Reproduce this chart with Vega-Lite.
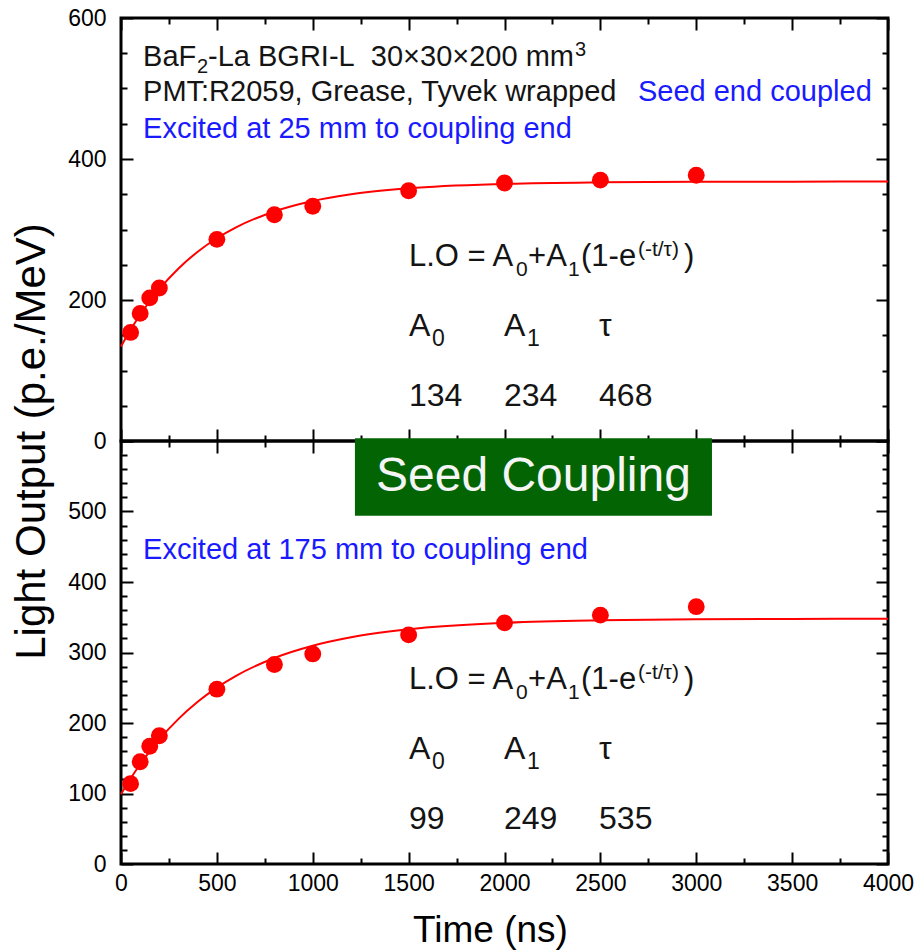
{
  "$schema": "https://vega.github.io/schema/vega-lite/v6.json",
  "padding": {"left": 8, "top": 5, "right": 0, "bottom": 2},
  "background": "white",
  "bounds": "flush",
  "spacing": 0,
  "config": {
    "font": "Liberation Sans",
    "view": {"stroke": "black", "strokeWidth": 3},
    "concat": {"spacing": 0},
    "axis": {
      "domain": false, "grid": false,
      "labelFont": "Liberation Sans", "labelFontSize": 23, "labelColor": "black",
      "labelOverlap": false, "labelFlush": false,
      "tickColor": "black", "tickWidth": 2,
      "titleFont": "Liberation Sans", "titleColor": "black", "titleFontWeight": "normal"
    },
    "text": {"align": "left", "baseline": "alphabetic", "color": "#141414"}
  },
  "datasets": {
    "topPts": [
      {"t": 50, "v": 154}, {"t": 100, "v": 181}, {"t": 150, "v": 203}, {"t": 200, "v": 217},
      {"t": 500, "v": 286}, {"t": 800, "v": 321}, {"t": 1000, "v": 333}, {"t": 1500, "v": 355},
      {"t": 2000, "v": 366}, {"t": 2500, "v": 370}, {"t": 3000, "v": 377}
    ],
    "topCurve": [
      {"t": 0, "v": 134}, {"t": 50, "v": 157.7}, {"t": 100, "v": 179.0}, {"t": 150, "v": 198.2},
      {"t": 200, "v": 215.4}, {"t": 300, "v": 244.7}, {"t": 400, "v": 268.5}, {"t": 500, "v": 287.6},
      {"t": 600, "v": 303.1}, {"t": 800, "v": 325.6}, {"t": 1000, "v": 340.4}, {"t": 1200, "v": 350.0},
      {"t": 1500, "v": 358.5}, {"t": 2000, "v": 364.7}, {"t": 2500, "v": 366.9}, {"t": 3000, "v": 367.6},
      {"t": 3500, "v": 367.9}, {"t": 4000, "v": 368.0}
    ],
    "botPts": [
      {"t": 50, "v": 114}, {"t": 100, "v": 145}, {"t": 150, "v": 167}, {"t": 200, "v": 182},
      {"t": 500, "v": 248}, {"t": 800, "v": 283}, {"t": 1000, "v": 298}, {"t": 1500, "v": 325},
      {"t": 2000, "v": 342}, {"t": 2500, "v": 353}, {"t": 3000, "v": 365}
    ],
    "botCurve": [
      {"t": 0, "v": 99}, {"t": 50, "v": 121.2}, {"t": 100, "v": 141.5}, {"t": 150, "v": 159.9},
      {"t": 200, "v": 176.7}, {"t": 300, "v": 205.9}, {"t": 400, "v": 230.1}, {"t": 500, "v": 250.2},
      {"t": 600, "v": 266.9}, {"t": 800, "v": 292.2}, {"t": 1000, "v": 309.6}, {"t": 1200, "v": 321.6},
      {"t": 1500, "v": 332.9}, {"t": 2000, "v": 342.1}, {"t": 2500, "v": 345.7}, {"t": 3000, "v": 347.1},
      {"t": 3500, "v": 347.6}, {"t": 4000, "v": 347.8}
    ]
  },
  "vconcat": [
    {
      "width": 767, "height": 423,
      "resolve": {"axis": {"x": "independent", "y": "independent"}},
      "layer": [
        {
          "data": {"name": "topCurve"},
          "mark": {"type": "line", "color": "#ff0000", "strokeWidth": 2, "interpolate": "monotone"},
          "encoding": {
            "x": {"field": "t", "type": "quantitative", "scale": {"domain": [0, 4000], "nice": false}, "axis": {"orient": "bottom", "labels": false, "ticks": false, "title": null}},
            "y": {"field": "v", "type": "quantitative", "scale": {"domain": [0, 600], "nice": false}, "axis": {"orient": "left", "values": [0, 200, 400, 600], "ticks": false, "labelPadding": 15, "title": null}}
          }
        },
        {
          "data": {"name": "topPts"},
          "mark": {"type": "circle", "color": "#ff0000", "opacity": 1, "size": 285},
          "encoding": {
            "x": {"field": "t", "type": "quantitative", "axis": {"orient": "bottom", "values": [0, 500, 1000, 1500, 2000, 2500, 3000, 3500, 4000], "labels": false, "tickSize": -12, "title": null}},
            "y": {"field": "v", "type": "quantitative", "axis": {"orient": "left", "values": [0, 200, 400, 600], "labels": false, "tickSize": -12, "title": null}}
          }
        },
        {
          "data": {"name": "topCurve"},
          "mark": {"type": "line", "opacity": 0},
          "encoding": {
            "x": {"field": "t", "type": "quantitative", "axis": {"orient": "bottom", "values": [250, 750, 1250, 1750, 2250, 2750, 3250, 3750], "labels": false, "tickSize": -6, "title": null}},
            "y": {"field": "v", "type": "quantitative", "axis": {"orient": "left", "values": [50, 100, 150, 250, 300, 350, 450, 500, 550], "labels": false, "tickSize": -6, "title": null}}
          }
        },
        {
          "data": {"name": "topCurve"},
          "mark": {"type": "line", "opacity": 0},
          "encoding": {
            "x": {"field": "t", "type": "quantitative", "axis": {"orient": "top", "values": [0, 500, 1000, 1500, 2000, 2500, 3000, 3500, 4000], "labels": false, "tickSize": -12, "title": null}},
            "y": {"field": "v", "type": "quantitative", "axis": {"orient": "right", "values": [0, 200, 400, 600], "labels": false, "tickSize": -12, "title": null}}
          }
        },
        {
          "data": {"name": "topCurve"},
          "mark": {"type": "line", "opacity": 0},
          "encoding": {
            "x": {"field": "t", "type": "quantitative", "axis": {"orient": "top", "values": [250, 750, 1250, 1750, 2250, 2750, 3250, 3750], "labels": false, "tickSize": -6, "title": null}},
            "y": {"field": "v", "type": "quantitative", "axis": {"orient": "right", "values": [50, 100, 150, 250, 300, 350, 450, 500, 550], "labels": false, "tickSize": -6, "title": null}}
          }
        },
        {
          "data": {"values": [
            {"t": 115, "v": 532, "label": "BaF"},
            {"t": 454, "v": 532, "label": "-La BGRI-L\u00a0\u00a030×30×200 mm"},
            {"t": 115, "v": 482, "label": "PMT:R2059, Grease, Tyvek wrapped"}
          ]},
          "mark": {"type": "text", "fontSize": 29},
          "encoding": {
            "x": {"field": "t", "type": "quantitative", "axis": null},
            "y": {"field": "v", "type": "quantitative", "axis": null},
            "text": {"field": "label"}
          }
        },
        {
          "data": {"values": [
            {"t": 396, "v": 522, "label": "2"},
            {"t": 2368, "v": 546, "label": "3"}
          ]},
          "mark": {"type": "text", "fontSize": 20},
          "encoding": {
            "x": {"field": "t", "type": "quantitative", "axis": null},
            "y": {"field": "v", "type": "quantitative", "axis": null},
            "text": {"field": "label"}
          }
        },
        {
          "data": {"values": [
            {"t": 2696, "v": 482, "label": "Seed end coupled"},
            {"t": 115, "v": 430, "label": "Excited at 25 mm to coupling end"}
          ]},
          "mark": {"type": "text", "fontSize": 29, "color": "#1a1aff"},
          "encoding": {
            "x": {"field": "t", "type": "quantitative", "axis": null},
            "y": {"field": "v", "type": "quantitative", "axis": null},
            "text": {"field": "label"}
          }
        },
        {
          "data": {"values": [
            {"t": 1502, "v": 248, "label": "L.O = A"},
            {"t": 2123, "v": 248, "label": "+A"},
            {"t": 2399, "v": 248, "label": "(1-e"},
            {"t": 2936, "v": 248, "label": ")"}
          ]},
          "mark": {"type": "text", "fontSize": 31},
          "encoding": {
            "x": {"field": "t", "type": "quantitative", "axis": null},
            "y": {"field": "v", "type": "quantitative", "axis": null},
            "text": {"field": "label"}
          }
        },
        {
          "data": {"values": [
            {"t": 2060, "v": 234, "label": "0"},
            {"t": 2331, "v": 234, "label": "1"},
            {"t": 2696, "v": 262, "label": "(-t/τ)"}
          ]},
          "mark": {"type": "text", "fontSize": 21},
          "encoding": {
            "x": {"field": "t", "type": "quantitative", "axis": null},
            "y": {"field": "v", "type": "quantitative", "axis": null},
            "text": {"field": "label"}
          }
        },
        {
          "data": {"values": [
            {"t": 1502, "v": 149, "label": "A"},
            {"t": 1997, "v": 149, "label": "A"},
            {"t": 2493, "v": 149, "label": "τ"},
            {"t": 1502, "v": 50, "label": "134"},
            {"t": 1997, "v": 50, "label": "234"},
            {"t": 2493, "v": 50, "label": "468"}
          ]},
          "mark": {"type": "text", "fontSize": 32},
          "encoding": {
            "x": {"field": "t", "type": "quantitative", "axis": null},
            "y": {"field": "v", "type": "quantitative", "axis": null},
            "text": {"field": "label"}
          }
        },
        {
          "data": {"values": [
            {"t": 1622, "v": 135, "label": "0"},
            {"t": 2117, "v": 135, "label": "1"}
          ]},
          "mark": {"type": "text", "fontSize": 23},
          "encoding": {
            "x": {"field": "t", "type": "quantitative", "axis": null},
            "y": {"field": "v", "type": "quantitative", "axis": null},
            "text": {"field": "label"}
          }
        }
      ]
    },
    {
      "width": 767, "height": 423,
      "resolve": {"axis": {"x": "independent", "y": "independent"}},
      "layer": [
        {
          "data": {"name": "botCurve"},
          "mark": {"type": "line", "color": "#ff0000", "strokeWidth": 2, "interpolate": "monotone"},
          "encoding": {
            "x": {"field": "t", "type": "quantitative", "scale": {"domain": [0, 4000], "nice": false}, "axis": {"orient": "bottom", "values": [0, 500, 1000, 1500, 2000, 2500, 3000, 3500, 4000], "format": "d", "ticks": false, "labelPadding": 8, "title": "Time (ns)", "titleFontSize": 37, "titlePadding": 17, "titleX": 369}},
            "y": {"field": "v", "type": "quantitative", "scale": {"domain": [0, 600], "nice": false}, "axis": {"orient": "left", "values": [0, 100, 200, 300, 400, 500], "ticks": false, "labelPadding": 15, "title": "Light Output (p.e./MeV)", "titleFontSize": 42, "titleX": -68, "titleY": 0, "titleBaseline": "bottom"}}
          }
        },
        {
          "data": {"name": "botPts"},
          "mark": {"type": "circle", "color": "#ff0000", "opacity": 1, "size": 285},
          "encoding": {
            "x": {"field": "t", "type": "quantitative", "axis": {"orient": "bottom", "values": [0, 500, 1000, 1500, 2000, 2500, 3000, 3500, 4000], "labels": false, "tickSize": -12, "title": null}},
            "y": {"field": "v", "type": "quantitative", "axis": {"orient": "left", "values": [0, 100, 200, 300, 400, 500, 600], "labels": false, "tickSize": -12, "title": null}}
          }
        },
        {
          "data": {"name": "botCurve"},
          "mark": {"type": "line", "opacity": 0},
          "encoding": {
            "x": {"field": "t", "type": "quantitative", "axis": {"orient": "bottom", "values": [250, 750, 1250, 1750, 2250, 2750, 3250, 3750], "labels": false, "tickSize": -6, "title": null}},
            "y": {"field": "v", "type": "quantitative", "axis": {"orient": "left", "values": [20, 40, 60, 80, 120, 140, 160, 180, 220, 240, 260, 280, 320, 340, 360, 380, 420, 440, 460, 480, 520, 540, 560, 580], "labels": false, "tickSize": -6, "title": null}}
          }
        },
        {
          "data": {"name": "botCurve"},
          "mark": {"type": "line", "opacity": 0},
          "encoding": {
            "x": {"field": "t", "type": "quantitative", "axis": {"orient": "top", "values": [0, 500, 1000, 1500, 2000, 2500, 3000, 3500, 4000], "labels": false, "tickSize": -12, "title": null}},
            "y": {"field": "v", "type": "quantitative", "axis": {"orient": "right", "values": [0, 100, 200, 300, 400, 500, 600], "labels": false, "tickSize": -12, "title": null}}
          }
        },
        {
          "data": {"name": "botCurve"},
          "mark": {"type": "line", "opacity": 0},
          "encoding": {
            "x": {"field": "t", "type": "quantitative", "axis": {"orient": "top", "values": [250, 750, 1250, 1750, 2250, 2750, 3250, 3750], "labels": false, "tickSize": -6, "title": null}},
            "y": {"field": "v", "type": "quantitative", "axis": {"orient": "right", "values": [20, 40, 60, 80, 120, 140, 160, 180, 220, 240, 260, 280, 320, 340, 360, 380, 420, 440, 460, 480, 520, 540, 560, 580], "labels": false, "tickSize": -6, "title": null}}
          }
        },
        {
          "data": {"values": [
            {"t": 115, "v": 432, "label": "Excited at 175 mm to coupling end"}
          ]},
          "mark": {"type": "text", "fontSize": 29, "color": "#1a1aff"},
          "encoding": {
            "x": {"field": "t", "type": "quantitative", "axis": null},
            "y": {"field": "v", "type": "quantitative", "axis": null},
            "text": {"field": "label"}
          }
        },
        {
          "data": {"values": [
            {"t": 1502, "v": 248, "label": "L.O = A"},
            {"t": 2123, "v": 248, "label": "+A"},
            {"t": 2399, "v": 248, "label": "(1-e"},
            {"t": 2936, "v": 248, "label": ")"}
          ]},
          "mark": {"type": "text", "fontSize": 31},
          "encoding": {
            "x": {"field": "t", "type": "quantitative", "axis": null},
            "y": {"field": "v", "type": "quantitative", "axis": null},
            "text": {"field": "label"}
          }
        },
        {
          "data": {"values": [
            {"t": 2060, "v": 234, "label": "0"},
            {"t": 2331, "v": 234, "label": "1"},
            {"t": 2696, "v": 262, "label": "(-t/τ)"}
          ]},
          "mark": {"type": "text", "fontSize": 21},
          "encoding": {
            "x": {"field": "t", "type": "quantitative", "axis": null},
            "y": {"field": "v", "type": "quantitative", "axis": null},
            "text": {"field": "label"}
          }
        },
        {
          "data": {"values": [
            {"t": 1502, "v": 149, "label": "A"},
            {"t": 1997, "v": 149, "label": "A"},
            {"t": 2493, "v": 149, "label": "τ"},
            {"t": 1502, "v": 50, "label": "99"},
            {"t": 1997, "v": 50, "label": "249"},
            {"t": 2493, "v": 50, "label": "535"}
          ]},
          "mark": {"type": "text", "fontSize": 32},
          "encoding": {
            "x": {"field": "t", "type": "quantitative", "axis": null},
            "y": {"field": "v", "type": "quantitative", "axis": null},
            "text": {"field": "label"}
          }
        },
        {
          "data": {"values": [
            {"t": 1622, "v": 135, "label": "0"},
            {"t": 2117, "v": 135, "label": "1"}
          ]},
          "mark": {"type": "text", "fontSize": 23},
          "encoding": {
            "x": {"field": "t", "type": "quantitative", "axis": null},
            "y": {"field": "v", "type": "quantitative", "axis": null},
            "text": {"field": "label"}
          }
        },
        {
          "data": {"values": [
            {"t1": 1220, "t2": 3082, "v1": 494, "v2": 604}
          ]},
          "mark": {"type": "rect", "color": "#036403", "opacity": 1},
          "encoding": {
            "x": {"field": "t1", "type": "quantitative", "axis": null},
            "x2": {"field": "t2"},
            "y": {"field": "v1", "type": "quantitative", "axis": null},
            "y2": {"field": "v2"}
          }
        },
        {
          "data": {"values": [
            {"t": 2151, "v": 549, "label": "Seed Coupling"}
          ]},
          "mark": {"type": "text", "align": "center", "baseline": "middle", "fontSize": 48, "color": "#f5f5f5"},
          "encoding": {
            "x": {"field": "t", "type": "quantitative", "axis": null},
            "y": {"field": "v", "type": "quantitative", "axis": null},
            "text": {"field": "label"}
          }
        }
      ]
    }
  ]
}
